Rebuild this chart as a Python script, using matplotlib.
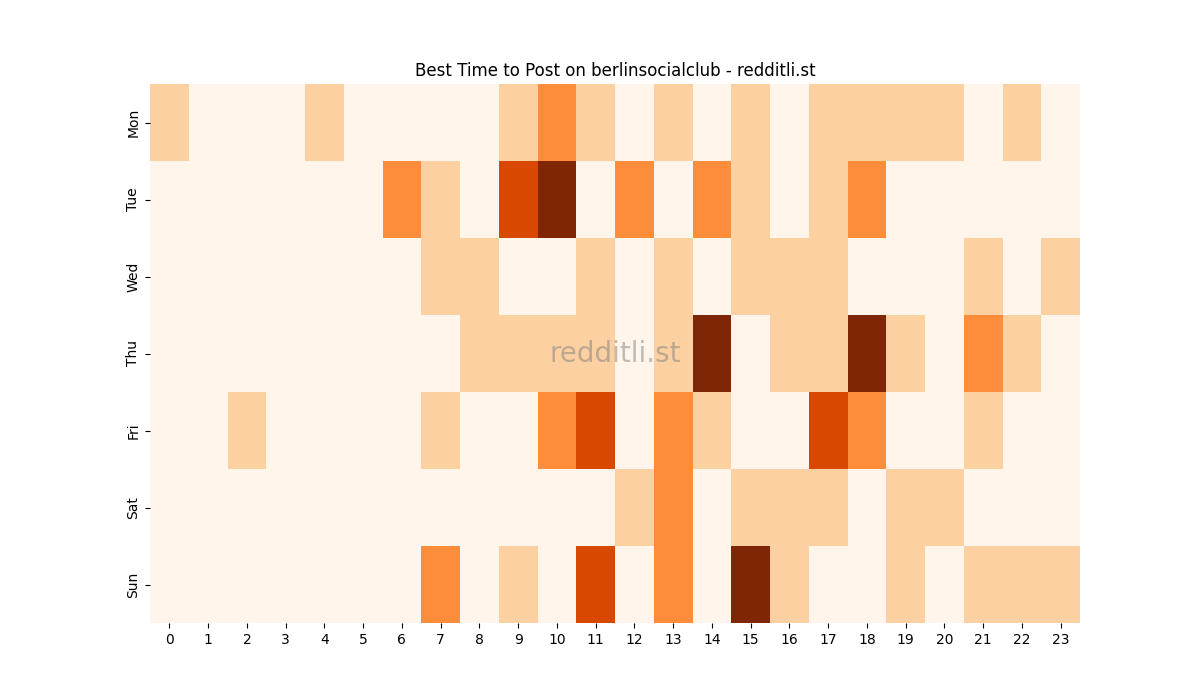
import numpy as np
import matplotlib
matplotlib.use('Agg')
import matplotlib.pyplot as plt

days = ['Mon', 'Tue', 'Wed', 'Thu', 'Fri', 'Sat', 'Sun']
hours = list(range(24))

mon = [1,0,0,0,1,0,0,0,0,1,2,1,0,1,0,1,0,1,1,1,1,0,1,0]
tue = [0,0,0,0,0,0,2,1,0,3,4,0,2,0,2,1,0,1,2,0,0,0,0,0]
wed = [0,0,0,0,0,0,0,1,1,0,0,1,0,1,0,1,1,1,0,0,0,1,0,1]
thu = [0,0,0,0,0,0,0,0,1,1,1,1,0,1,4,0,1,1,4,1,0,2,1,0]
fri = [0,0,1,0,0,0,0,1,0,0,2,3,0,2,1,0,0,3,2,0,0,1,0,0]
sat = [0,0,0,0,0,0,0,0,0,0,0,0,1,2,0,1,1,1,0,1,1,0,0,0]
sun = [0,0,0,0,0,0,0,2,0,1,0,3,0,2,0,4,1,0,0,1,0,1,1,1]

grid = np.array([mon, tue, wed, thu, fri, sat, sun])

fig, ax = plt.subplots(figsize=(12, 7), dpi=100)
ax.pcolormesh(grid, cmap='Oranges', vmin=0, vmax=4)
ax.set_xlim(0, 24)
ax.set_ylim(7, 0)
ax.set_xticks(np.arange(24) + 0.5)
ax.set_xticklabels(hours)
ax.set_yticks(np.arange(7) + 0.5)
ax.set_yticklabels(days, rotation=90, va='center')
for s in ax.spines.values():
    s.set_visible(False)
ax.set_title('Best Time to Post on berlinsocialclub - redditli.st')
ax.text(0.5, 0.5, 'redditli.st', transform=ax.transAxes, ha='center', va='center',
        fontsize=20, color='gray', alpha=0.5)

plt.savefig('out.png', dpi=100)
